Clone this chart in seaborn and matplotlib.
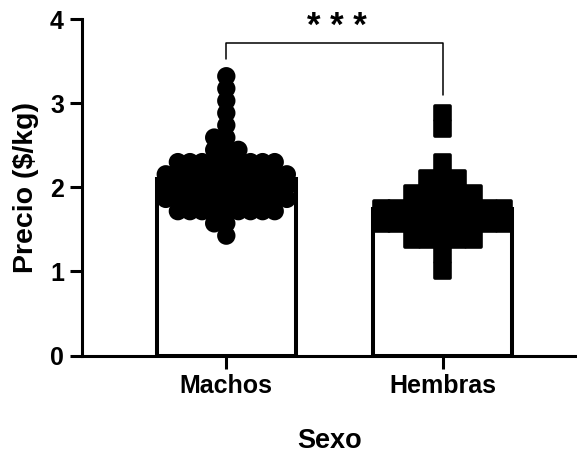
import numpy as np
import pandas as pd
import matplotlib
matplotlib.use("Agg")
import matplotlib.pyplot as plt
import matplotlib.patheffects as pe
import seaborn as sns

sns.set_theme(style="ticks")
plt.rcParams['font.family'] = ['Liberation Sans', 'DejaVu Sans']
for k in ["text.color", "axes.labelcolor", "xtick.color", "ytick.color",
          "axes.edgecolor"]:
    plt.rcParams[k] = "black"

# ---- data ----
categorias = ["Machos", "Hembras"]
machos_niveles = [3.320, 3.174, 3.028, 2.883, 2.737, 2.591, 2.445,
                  2.299, 2.154, 2.008, 1.862, 1.716, 1.571, 1.425]
machos_conteo  = [1, 1, 1, 1, 1, 2, 3, 9, 11, 11, 11, 9, 2, 1]
hembras_niveles = [2.882, 2.698, 2.296, 2.112, 1.929, 1.746, 1.562, 1.379, 1.195, 1.012]
hembras_conteo  = [1,     1,     1,     3,     5,     9,     9,     5,     1,     1]
y_ticks = [0, 1, 2, 3, 4]
significancia = "* * *"

machos = np.repeat(machos_niveles, machos_conteo)
hembras = np.repeat(hembras_niveles, hembras_conteo)
df = pd.DataFrame({
    "Sexo": ["Machos"] * len(machos) + ["Hembras"] * len(hembras),
    "Precio": np.concatenate([machos, hembras]),
})

fig = plt.figure(figsize=(5.77, 4.53), dpi=100)
ax = fig.add_axes([0.1421, 0.2152, 1.0 - 0.1421, 0.958 - 0.2152])

sns.barplot(data=df, x="Sexo", y="Precio", order=categorias, errorbar=None,
            color="white", edgecolor="black", linewidth=2.9, width=0.645,
            saturation=1, ax=ax, zorder=2)

n_prev = len(ax.collections)
sns.swarmplot(data=df[df.Sexo == "Machos"], x="Sexo", y="Precio", order=categorias,
              color="black", size=8.3, marker="o", linewidth=0, ax=ax, zorder=3)
n_mid = len(ax.collections)
sns.swarmplot(data=df[df.Sexo == "Hembras"], x="Sexo", y="Precio", order=categorias,
              color="black", size=10.5, marker="s", linewidth=0, ax=ax, zorder=3)
for coll in ax.collections[n_prev:n_mid]:
    coll.set_path_effects([pe.Stroke(linewidth=4.9, foreground="black"), pe.Normal()])
for coll in ax.collections[n_mid:]:
    coll.set_path_effects([pe.Stroke(linewidth=2.6, foreground="black"), pe.Normal()])

ax.set_xlim(-0.667, 1.621)
ax.set_ylim(0, 4)
ax.set_yticks(y_ticks)
ax.set_yticklabels([str(t) for t in y_ticks])

for s in ["top", "right"]:
    ax.spines[s].set_visible(False)
for s in ["left", "bottom"]:
    ax.spines[s].set_linewidth(2.2)
    ax.spines[s].set_color("black")
ax.tick_params(axis="both", length=9, width=2.2, color="black",
               labelcolor="black", labelsize=18, pad=4)
for lab in ax.get_xticklabels() + ax.get_yticklabels():
    lab.set_fontweight("bold")

ax.set_xlabel("Sexo", fontsize=19.5, fontweight="bold", labelpad=22, color="black")
ax.set_ylabel("Precio ($/kg)", fontsize=20.5, fontweight="bold", labelpad=8, color="black")

# significance bracket
ax.plot([0, 0, 1, 1], [3.53, 3.71, 3.71, 3.10], color="black", lw=1.1,
        clip_on=False, zorder=4)
ax.text(0.51, 3.80, significancia, ha="center", va="baseline",
        fontsize=25, fontweight="bold", clip_on=False, color="black")

fig.savefig("out.png", dpi=100)
